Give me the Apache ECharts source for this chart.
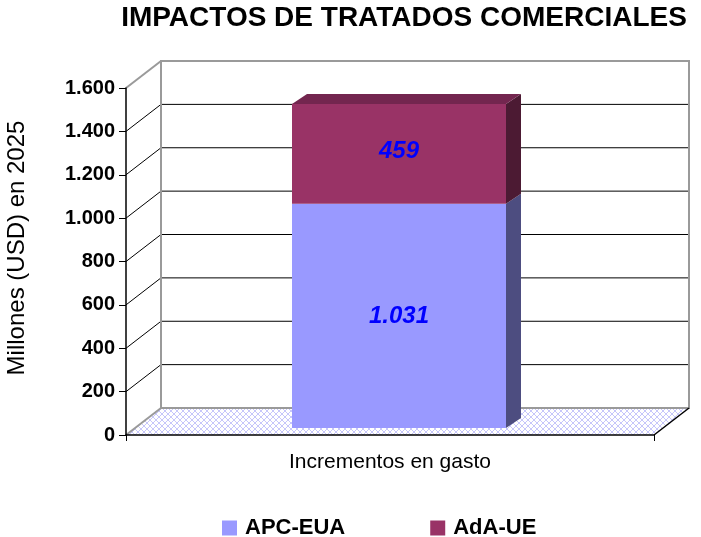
<!DOCTYPE html>
<html>
<head>
<meta charset="utf-8">
<script src="https://cdn.jsdelivr.net/npm/echarts@6/dist/echarts.min.js"></script>
<style>html,body{margin:0;padding:0;background:#fff}#c{width:701px;height:537px}</style>
</head>
<body>
<div id="c"></div>
<script>
// ---- data ----
const categories = ['Incrementos en gasto'];
const seriesNames = ['APC-EUA', 'AdA-UE'];
const apcEua = [1031];
const adaUe = [459];
const yTicks = [0, 200, 400, 600, 800, 1000, 1200, 1400, 1600];

const fmt = v => String(v).replace(/\B(?=(\d{3})+(?!\d))/g, '.');
const FONT = '"Liberation Sans", Arial, sans-serif';

// wall depth (front axis plane -> back wall)
const DX = 35, DY = -27;
// bar depth
const BDX = 15, BDY = -10;
const BARW = 214;

// floor pattern
const pc = document.createElement('canvas');
pc.width = 6; pc.height = 6;
const ctx = pc.getContext('2d');
ctx.fillStyle = '#ffffff'; ctx.fillRect(0, 0, 6, 6);
ctx.strokeStyle = '#c6c6fa'; ctx.lineWidth = 1;
ctx.beginPath(); ctx.moveTo(0, 0); ctx.lineTo(6, 6); ctx.moveTo(6, 0); ctx.lineTo(0, 6); ctx.stroke();
const floorPattern = { image: pc, repeat: 'repeat' };

const yMin = yTicks[0], yMax = yTicks[yTicks.length - 1];

// segments for 3D faces: [cat, start, end, segIdx]
const segments = [];
categories.forEach((c, i) => {
  segments.push([i, 0, apcEua[i], 0]);
  segments.push([i, apcEua[i], apcEua[i] + adaUe[i], 1]);
});
const sideColors = ['#4d4d80', '#4c1a33'];
const topColors = ['#7070c0', '#73264f'];

const chart = echarts.init(document.getElementById('c'));
chart.setOption({
  animation: false,
  backgroundColor: '#fff',
  title: {
    text: 'IMPACTOS DE TRATADOS COMERCIALES',
    left: 399, top: -1, textAlign: 'center',
    textStyle: { fontFamily: FONT, fontSize: 28, fontWeight: 'bold', color: '#000' }
  },
  legend: {
    data: seriesNames,
    left: 217, top: 512,
    icon: 'rect', itemWidth: 15, itemHeight: 15, itemGap: 85,
    textStyle: { fontFamily: FONT, fontSize: 22, fontWeight: 'bold', color: '#000', padding: [0, 0, 0, 3] }
  },
  graphic: [{
    type: 'text', x: 17, y: 248, rotation: Math.PI / 2,
    style: { text: 'Millones (USD) en 2025', fontFamily: FONT, fontSize: 24, fill: '#000', textAlign: 'center', textVerticalAlign: 'middle' }
  }],
  grid: [
    { left: 126, right: 47, top: 88, bottom: 102 },
    { left: 135, right: 38, top: 80, bottom: 109 }
  ],
  xAxis: [
    { type: 'category', gridIndex: 0, data: categories, z: 10,
      axisLine: { lineStyle: { color: '#000', width: 1.5 } },
      axisTick: { show: true, length: 6, lineStyle: { color: '#000' } },
      axisLabel: { fontFamily: FONT, fontSize: 21, color: '#000', margin: 17 } },
    { type: 'category', gridIndex: 1, data: categories, show: false }
  ],
  yAxis: [
    { type: 'value', gridIndex: 0, min: yMin, max: yMax, interval: 200, z: 10,
      axisLine: { show: true, lineStyle: { color: '#000', width: 1.5 } },
      axisTick: { show: true, length: 7, lineStyle: { color: '#000' } },
      splitLine: { show: false },
      axisLabel: { fontFamily: FONT, fontSize: 20, fontWeight: 'bold', color: '#000', margin: 11, formatter: fmt } },
    { type: 'value', gridIndex: 1, min: yMin, max: yMax, interval: 200, show: false, splitLine: { show: false } }
  ],
  series: [
    {
      type: 'custom', name: 'walls', xAxisIndex: 0, yAxisIndex: 0, z: 0, silent: true,
      data: [[0]],
      renderItem: function (params, api) {
        const cs = params.coordSys;
        const x0 = cs.x, x1 = cs.x + cs.width;
        const yOf = v => api.coord([0, v])[1];
        const y0 = yOf(yMin), yT = yOf(yMax);
        const ch = [];
        ch.push({ type: 'rect', shape: { x: x0 + DX, y: yT + DY, width: x1 - x0, height: y0 - yT },
          style: { fill: '#fff', stroke: 'none' } });
        ch.push({ type: 'polygon', shape: { points: [[x0, y0], [x1, y0], [x1 + DX, y0 + DY], [x0 + DX, y0 + DY]] },
          style: { fill: floorPattern, stroke: 'none' } });
        yTicks.forEach(v => {
          if (v === yMin || v === yMax) return;
          const y = yOf(v);
          ch.push({ type: 'line', shape: { x1: x0 + DX, y1: y + DY, x2: x1 + DX, y2: y + DY }, style: { stroke: '#000', lineWidth: 1 } });
          ch.push({ type: 'line', shape: { x1: x0, y1: y, x2: x0 + DX, y2: y + DY }, style: { stroke: '#000', lineWidth: 1 } });
        });
        ch.push({ type: 'rect', shape: { x: x0 + DX, y: yT + DY, width: x1 - x0, height: y0 - yT },
          style: { fill: 'none', stroke: '#9a9a9a', lineWidth: 2 } });
        ch.push({ type: 'line', shape: { x1: x0, y1: yT, x2: x0 + DX, y2: yT + DY }, style: { stroke: '#9a9a9a', lineWidth: 2 } });
        ch.push({ type: 'line', shape: { x1: x0, y1: y0, x2: x0 + DX, y2: y0 + DY }, style: { stroke: '#9a9a9a', lineWidth: 2 } });
        ch.push({ type: 'line', shape: { x1: x1, y1: y0, x2: x1 + DX, y2: y0 + DY }, style: { stroke: '#000', lineWidth: 1.5 } });
        return { type: 'group', children: ch };
      }
    },
    {
      type: 'bar', name: seriesNames[0], xAxisIndex: 1, yAxisIndex: 1, stack: 's', barWidth: BARW, z: 2,
      data: apcEua, itemStyle: { color: '#9999ff' },
      label: { show: true, position: 'inside', formatter: p => fmt(p.value),
        fontFamily: FONT, fontSize: 24, fontWeight: 'bold', fontStyle: 'italic', color: '#0000ff' }
    },
    {
      type: 'bar', name: seriesNames[1], xAxisIndex: 1, yAxisIndex: 1, stack: 's', barWidth: BARW, z: 2,
      data: adaUe, itemStyle: { color: '#993366' },
      label: { show: true, position: 'inside', offset: [0, -2], formatter: p => fmt(p.value),
        fontFamily: FONT, fontSize: 24, fontWeight: 'bold', fontStyle: 'italic', color: '#0000ff' }
    },
    {
      type: 'custom', name: 'faces', xAxisIndex: 1, yAxisIndex: 1, z: 3, silent: true,
      data: segments,
      renderItem: function (params, api) {
        const p0 = api.coord([api.value(0), api.value(1)]);
        const p1 = api.coord([api.value(0), api.value(2)]);
        const k = api.value(3);
        const lx = p0[0] - BARW / 2, rx = p0[0] + BARW / 2;
        const ch = [{ type: 'polygon', shape: { points: [[rx, p0[1]], [rx, p1[1]], [rx + BDX, p1[1] + BDY], [rx + BDX, p0[1] + BDY]] },
          style: { fill: sideColors[k] } }];
        if (params.dataIndex === segments.length - 1) {
          ch.push({ type: 'polygon', shape: { points: [[lx, p1[1]], [rx, p1[1]], [rx + BDX, p1[1] + BDY], [lx + BDX, p1[1] + BDY]] },
            style: { fill: topColors[k] } });
        }
        return { type: 'group', children: ch };
      }
    }
  ]
});
</script>
</body>
</html>
